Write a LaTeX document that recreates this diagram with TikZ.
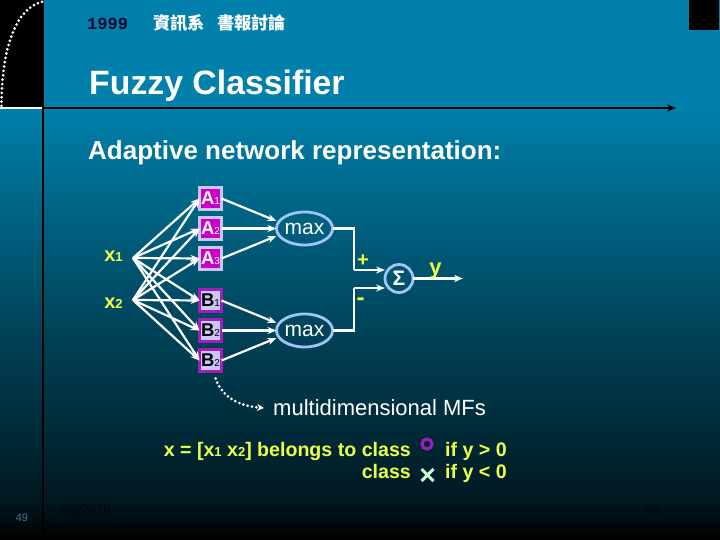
\documentclass[tikz,border=0pt]{standalone}
\usepackage{fontspec}
\setmainfont{Liberation Sans}
\newfontfamily\cjk{Noto Sans CJK TC}
\newfontfamily\yearfont{Liberation Mono}
\usepackage{tikz}
\usetikzlibrary{arrows.meta, positioning, shapes.geometric, shapes.misc}
\definecolor{slidetop}{RGB}{0,128,170}
\definecolor{slidemid}{RGB}{0,98,130}
\definecolor{slidefall}{RGB}{0,62,82}
\definecolor{slidelow}{RGB}{0,42,56}
\definecolor{slidefoot}{RGB}{0,24,32}
\definecolor{ringblue}{RGB}{160,196,245}
\definecolor{lilac}{RGB}{200,200,245}
\definecolor{orchid}{RGB}{204,0,204}
\definecolor{violet}{RGB}{160,30,190}
\definecolor{lemon}{RGB}{235,255,70}
\definecolor{mint}{RGB}{205,255,215}
\definecolor{footgrey}{RGB}{0,8,12}
\pgfdeclareverticalshading{slidefade}{100bp}{color(0bp)=(black); color(25bp)=(black); color(28.7bp)=(slidefoot); color(35bp)=(slidelow); color(42.6bp)=(slidefall); color(55bp)=(slidemid); color(65bp)=(slidetop); color(100bp)=(slidetop)}
\newcommand{\lowidx}[1]{{\fontsize{13}{13}\selectfont #1}}
\newcommand{\boxidx}[1]{{\fontsize{10}{10}\selectfont\mdseries #1}}
\begin{document}
\begin{tikzpicture}[
      x=1pt, y=-1pt,
      mfa/.style={rectangle, draw=lilac, fill=orchid, line width=3pt, minimum size=22pt, inner sep=0pt, outer sep=0pt, text=white, font=\fontsize{18.5}{18.5}\selectfont\bfseries},
      mfb/.style={rectangle, draw=violet, fill=lilac, line width=3pt, minimum size=22pt, inner sep=0pt, outer sep=0pt, text=black, font=\fontsize{18.5}{18.5}\selectfont\bfseries},
      maxnode/.style={ellipse, draw=ringblue, line width=2.8pt, minimum width=52pt, minimum height=33pt, inner sep=0pt, outer sep=0pt, text=white, font=\fontsize{21}{21}\selectfont},
      sumnode/.style={circle, draw=ringblue, line width=2.8pt, minimum size=28pt, inner sep=0pt, outer sep=0pt, text=white, font=\fontsize{21}{21}\selectfont\bfseries},
      inlabel/.style={text=lemon, inner sep=0pt, font=\fontsize{20}{20}\selectfont\bfseries},
      yellowtext/.style={text=lemon, inner sep=0pt, font=\fontsize{19.6}{19.6}\selectfont\bfseries},
      wire/.style={-{Stealth[length=9pt,width=7pt]}, white, line width=2.2pt},
      plainwire/.style={white, line width=2.2pt},
      hint/.style={-{Stealth[length=7pt,width=7pt]}, white, line width=3pt, dash pattern=on 0pt off 4.4pt, line cap=round}
    ]
    \useasboundingbox (0,0) rectangle (720,540);
    \shade[shading=slidefade] (0,0) rectangle (720,540);
    \fill[black] (0,0) rectangle (44,108);
    \fill[black] (689,0) rectangle (719,30);
    \coordinate (ruleL) at (44,108);
    \coordinate (ruleR) at (676,108);
    \draw[black, line width=2.2pt, -{Stealth[length=9pt,width=7pt]}] (ruleL) -- (ruleR);
    \draw[black, line width=2.2pt] (43,108) -- (43,540);
    \draw[white, line width=2.2pt] (0,108) -- (42,108);
    \draw[white, line width=3pt, dash pattern=on 0pt off 4.4pt, line cap=round] (1.5,106) .. controls (1.5,50) and (15,8) .. (43,1.5);

    \node[anchor=base west, inner sep=0pt, text={rgb,255:red,0;green,10;blue,50}, font=\fontsize{17}{17}\selectfont\yearfont\bfseries] (year) at (87,30) {1999};
    \node[anchor=base west, inner sep=0pt, text=white, font=\fontsize{17.3}{17.3}\selectfont\cjk\bfseries] (dept) at (153,30) {資訊系\hspace{12pt}書報討論};
    \node[anchor=base west, inner sep=0pt, text=white, font=\fontsize{33.8}{33.8}\selectfont\bfseries] (title) at (89,95) {Fuzzy Classifier};
    \node[anchor=base west, inner sep=0pt, text=white, font=\fontsize{26}{26}\selectfont\bfseries] (subtitle) at (88,160) {Adaptive network representation:};

    \node[mfa] (A1) at (210.5,198.5) {A\boxidx{1}};
    \node[mfa, below=8pt of A1] (A2) {A\boxidx{2}};
    \node[mfa, below=8pt of A2] (A3) {A\boxidx{3}};
    \node[mfb, below=20pt of A3] (B1) {B\boxidx{1}};
    \node[mfb, below=8pt of B1] (B2) {B\boxidx{2}};
    \node[mfb, below=8pt of B2] (B3) {B\boxidx{2}};
    \node[maxnode, right=55pt of A2] (max1) {max};
    \node[maxnode, right=55pt of B2] (max2) {max};
    \node[sumnode] (sum) at (399,278.5) {Σ};

    \node[inlabel] (x1) at (113.5,256) {x\lowidx{1}};
    \node[inlabel] (x2) at (113.5,303) {x\lowidx{2}};
    \coordinate (in1) at (133,258);
    \coordinate (in2) at (133,300);
    \coordinate (bendP) at (354,270);
    \coordinate (bendM) at (354,288);
    \coordinate (yout) at (463,278.5);

    \draw[wire] (in1) -- (A1.west);
    \draw[wire] (in1) -- (A2.west);
    \draw[wire] (in1) -- (A3.west);
    \draw[wire] (in1) -- (B1.west);
    \draw[wire] (in1) -- (B2.west);
    \draw[wire] (in1) -- (B3.west);
    \draw[wire] (in2) -- (A1.west);
    \draw[wire] (in2) -- (A2.west);
    \draw[wire] (in2) -- (A3.west);
    \draw[wire] (in2) -- (B1.west);
    \draw[wire] (in2) -- (B2.west);
    \draw[wire] (in2) -- (B3.west);

    \draw[wire] (A1.east) -- ([yshift=7.5pt]max1.west);
    \draw[wire] (A2.east) -- (max1.west);
    \draw[wire] (A3.east) -- ([yshift=-7.5pt]max1.west);
    \draw[wire] (B1.east) -- ([yshift=7.5pt]max2.west);
    \draw[wire] (B2.east) -- (max2.west);
    \draw[wire] (B3.east) -- ([yshift=-7.5pt]max2.west);

    \draw[plainwire] (max1.east) -| (bendP);
    \draw[wire] (bendP) -- (bendP -| sum.west);
    \draw[plainwire] (max2.east) -| (bendM);
    \draw[wire] (bendM) -- (bendM -| sum.west);
    \draw[wire] (sum.east) -- (yout);

    \node[yellowtext, font=\fontsize{20}{20}\selectfont\bfseries] (plus) at (363,261) {+};
    \node[yellowtext, font=\fontsize{24}{24}\selectfont\bfseries] (minus) at (360.5,302) {-};
    \node[yellowtext, font=\fontsize{22}{22}\selectfont\bfseries] (yname) at (435.5,271) {y};

    \node[anchor=base west, inner sep=0pt, text=white, font=\fontsize{22}{22}\selectfont] (mfnote) at (273,415) {multidimensional MFs};
    \draw[hint] ([xshift=5pt,yshift=-7pt]B3.south) to[out=-70, in=175] ([xshift=-9pt,yshift=7pt]mfnote.base west);

    \node[yellowtext, anchor=base east] (line1) at (411,456) {x = [x\lowidx{1} x\lowidx{2}] belongs to class};
    \node[yellowtext, anchor=base east] (line2) at (411,478) {class};
    \node[yellowtext, anchor=base west] (cond1) at (445,456) {if y > 0};
    \node[yellowtext, anchor=base west] (cond2) at (445,478) {if y < 0};
    \node[circle, draw=violet, line width=3pt, minimum size=10pt, inner sep=0pt] (classo) at (427,444) {};
    \node[cross out, draw=mint, line width=3pt, minimum size=9pt, inner sep=0pt] (classx) at (427.5,475) {};

    \node[text={rgb,255:red,60;green,120;blue,150}, inner sep=0pt, font=\fontsize{11}{11}\selectfont] (pageL) at (22,518) {49};
    \node[text=footgrey, inner sep=0pt, font=\fontsize{13}{13}\selectfont] (date) at (85.5,510) {9/9/2020};
    \node[text=footgrey, inner sep=0pt, font=\fontsize{13}{13}\selectfont] (pageR) at (652,510) {49};
    \end{tikzpicture}
\end{document}
